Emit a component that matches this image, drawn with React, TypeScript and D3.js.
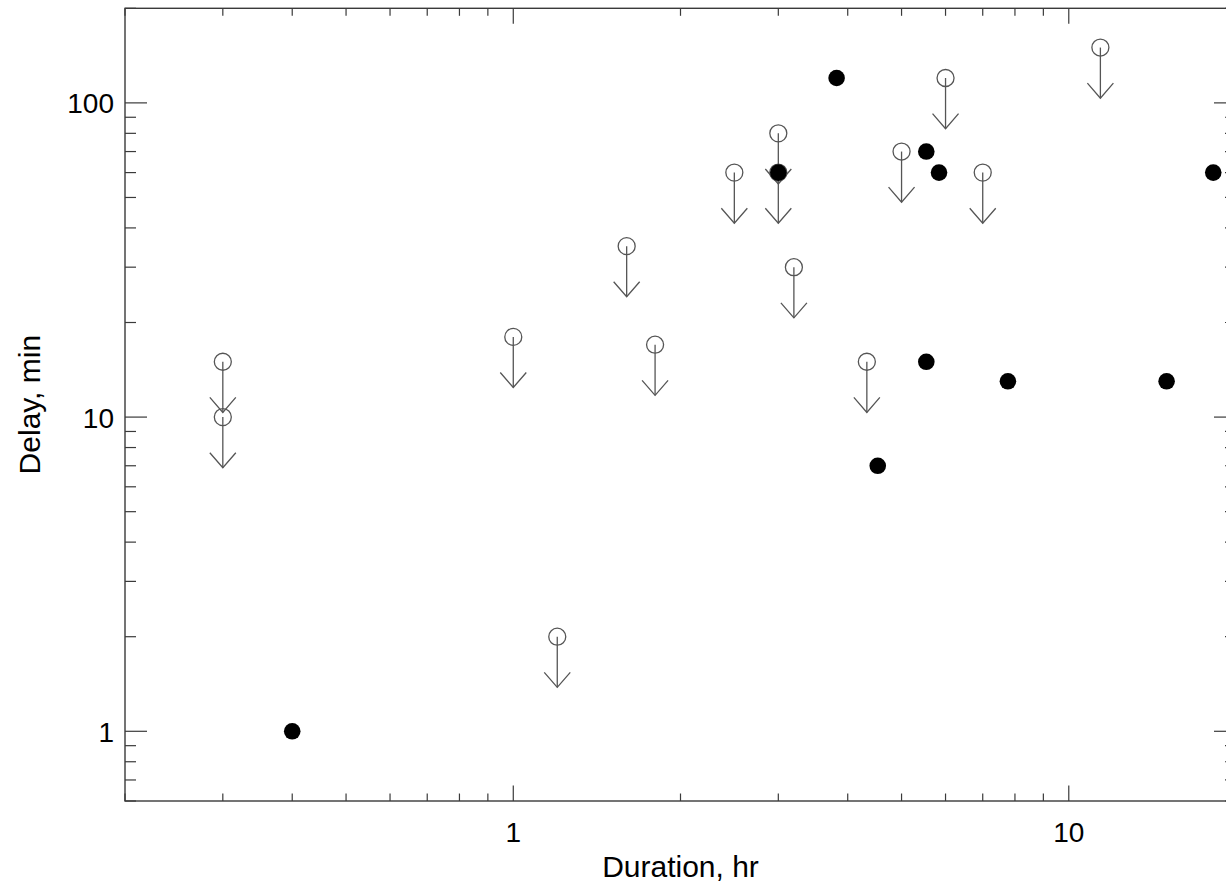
import React from "react";
import * as d3 from "d3";

// Upper limits (open circles with downward arrows): duration [hr], delay [min]
const limitDurations = [0.3, 0.3, 1.0, 1.2, 1.6, 1.8, 2.5, 3.0, 3.0, 3.2, 4.33, 5.0, 6.0, 7.0, 11.4];
const limitDelays = [15, 10, 18, 2, 35, 17, 60, 80, 60, 30, 15, 70, 120, 60, 150];

// Measured values (filled circles)
const measDurations = [0.4, 3.0, 3.82, 4.53, 5.54, 5.54, 5.84, 7.77, 15.0, 18.2];
const measDelays = [1, 60, 120, 7, 70, 15, 60, 13, 13, 60];

const xMajorTicks = [1, 10];
const yMajorTicks = [1, 10, 100];
const xTickLabels = ["1", "10"];
const yTickLabels = ["1", "10", "100"];

const xDomain: [number, number] = [0.2, 20];
const yDomain: [number, number] = [0.6, 200];

const W = 1226;
const H = 883;
const L = 125;
const R = 1236;
const T = 8.3;
const B = 801;

const FONT = "'Liberation Sans', Arial, Helvetica, sans-serif";
const AX = "#3a3a3a";
const MARK = "#555";

function minorTicks(domain: [number, number]) {
  const out: number[] = [];
  for (let e = -3; e <= 4; e++) {
    for (let m = 1; m <= 9; m++) {
      const v = m * Math.pow(10, e);
      if (v >= domain[0] - 1e-9 && v <= domain[1] + 1e-9) out.push(v);
    }
  }
  return out;
}

export default function App() {
  const x = d3.scaleLog().domain(xDomain).range([L, R]);
  const y = d3.scaleLog().domain(yDomain).range([B, T]);

  const xMinor = minorTicks(xDomain).filter((v) => !xMajorTicks.includes(v));
  const yMinor = minorTicks(yDomain).filter((v) => !yMajorTicks.includes(v));

  const xMajLen = 15.5;
  const xMinLen = 7.5;
  const yMajLen = 22;
  const yMinLen = 11;

  const limits = limitDurations.map((d, i) => ({ d, v: limitDelays[i] }));
  const meas = measDurations.map((d, i) => ({ d, v: measDelays[i] }));

  return (
    <svg
      width={W}
      height={H}
      style={{ position: "absolute", left: 0, top: 0, background: "#fff" }}
    >
      <rect x={0} y={0} width={W} height={H} fill="#fff" />
      {/* frame */}
      <rect x={L} y={T} width={R - L} height={B - T} fill="none" stroke={AX} strokeWidth={1.4} />

      {/* x ticks bottom & top */}
      {xMajorTicks.map((v) => (
        <g key={"xM" + v}>
          <line x1={x(v)} x2={x(v)} y1={B} y2={B - xMajLen} stroke={AX} strokeWidth={1.2} />
          <line x1={x(v)} x2={x(v)} y1={T} y2={T + xMajLen} stroke={AX} strokeWidth={1.2} />
        </g>
      ))}
      {xMinor.map((v) => (
        <g key={"xm" + v}>
          <line x1={x(v)} x2={x(v)} y1={B} y2={B - xMinLen} stroke={AX} strokeWidth={1.2} />
          <line x1={x(v)} x2={x(v)} y1={T} y2={T + xMinLen} stroke={AX} strokeWidth={1.2} />
        </g>
      ))}
      {/* y ticks left & right */}
      {yMajorTicks.map((v) => (
        <g key={"yM" + v}>
          <line x1={L} x2={L + yMajLen} y1={y(v)} y2={y(v)} stroke={AX} strokeWidth={1.2} />
          <line x1={R} x2={R - yMajLen} y1={y(v)} y2={y(v)} stroke={AX} strokeWidth={1.2} />
        </g>
      ))}
      {yMinor.map((v) => (
        <g key={"ym" + v}>
          <line x1={L} x2={L + yMinLen} y1={y(v)} y2={y(v)} stroke={AX} strokeWidth={1.2} />
          <line x1={R} x2={R - yMinLen} y1={y(v)} y2={y(v)} stroke={AX} strokeWidth={1.2} />
        </g>
      ))}

      {/* tick labels */}
      {xMajorTicks.map((v, i) => (
        <text key={"xl" + v} x={x(v)} y={842} textAnchor="middle" fontFamily={FONT} fontSize={28} fill="#000">
          {xTickLabels[i]}
        </text>
      ))}
      {yMajorTicks.map((v, i) => (
        <text key={"yl" + v} x={114} y={y(v) + 10.5} textAnchor="end" fontFamily={FONT} fontSize={28} fill="#000">
          {yTickLabels[i]}
        </text>
      ))}

      {/* axis titles */}
      <text x={(L + R) / 2} y={877} textAnchor="middle" fontFamily={FONT} fontSize={30} fill="#000">
        Duration, hr
      </text>
      <text
        transform={`translate(40, ${(T + B) / 2}) rotate(-90)`}
        textAnchor="middle"
        fontFamily={FONT}
        fontSize={30}
        fill="#000"
      >
        Delay, min
      </text>

      {/* upper limits */}
      {limits.map((p, i) => {
        const cx = x(p.d);
        const cy = y(p.v);
        const tip = y(p.v * 0.69);
        return (
          <g key={"lim" + i} stroke={MARK} strokeWidth={1.3} fill="none">
            <circle cx={cx} cy={cy} r={8.5} />
            <line x1={cx} x2={cx} y1={cy} y2={tip} />
            <polyline points={`${cx - 13},${tip - 15} ${cx},${tip} ${cx + 13},${tip - 15}`} />
          </g>
        );
      })}

      {/* measured */}
      {meas.map((p, i) => (
        <circle key={"m" + i} cx={x(p.d)} cy={y(p.v)} r={8.3} fill="#000" />
      ))}
    </svg>
  );
}
